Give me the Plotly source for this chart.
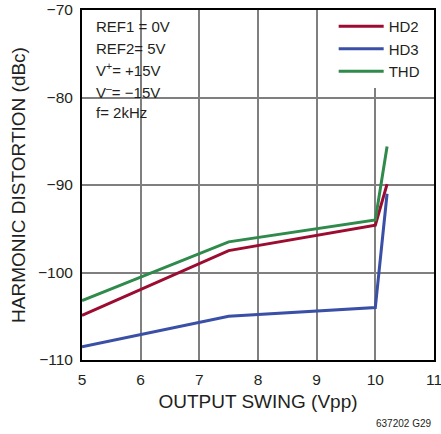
import plotly.graph_objects as go

# Data
hd2_x = [5, 7.5, 10, 10.2]
hd2_y = [-104.9, -97.5, -94.6, -89.9]
hd3_x = [5, 7.5, 10, 10.2]
hd3_y = [-108.5, -105.0, -104.0, -91.0]
thd_x = [5, 7.5, 10, 10.2]
thd_y = [-103.2, -96.5, -94.0, -85.6]

x_ticks = [5, 6, 7, 8, 9, 10, 11]
y_ticks = [-110, -100, -90, -80, -70]
y_labels = ["\u2212110", "\u2212100", "\u221290", "\u221280", "\u221270"]

cond_lines = ["REF1 = 0V", "REF2= 5V", "V<sup>+</sup>= +15V",
              "V<sup>\u2013</sup>= \u221215V", "f= 2kHz"]

FONT = "Liberation Sans, Arial, sans-serif"
TXT = "#231F20"

fig = go.Figure()
fig.add_trace(go.Scatter(x=hd2_x, y=hd2_y, mode="lines", name="HD2",
                         line=dict(color="#9C0B30", width=3)))
fig.add_trace(go.Scatter(x=hd3_x, y=hd3_y, mode="lines", name="HD3",
                         line=dict(color="#3A4FA6", width=3)))
fig.add_trace(go.Scatter(x=thd_x, y=thd_y, mode="lines", name="THD",
                         line=dict(color="#2F8A4B", width=3)))

fig.update_layout(
    width=441, height=434,
    margin=dict(l=82, r=7, t=10, b=74, autoexpand=False),
    paper_bgcolor="white", plot_bgcolor="white",
    font=dict(family=FONT, size=15.5, color=TXT),
    showlegend=True,
    legend=dict(x=0.715, y=1.0, xanchor="left", yanchor="top",
                bgcolor="white", font=dict(size=15, family=FONT),
                itemwidth=45, tracegroupgap=0),
)
fig.update_xaxes(range=[5, 11], tickvals=x_ticks, showgrid=True,
                 gridcolor="#7F7F7F", gridwidth=1.5, zeroline=False,
                 showline=True, linecolor="black", linewidth=2, mirror=True,
                 ticks="", ticklabelstandoff=4, automargin=False,
                 ticklabeloverflow="allow",
                 title=dict(text="OUTPUT SWING (Vpp)", standoff=8),
                 tickfont=dict(size=15.5))
fig.update_yaxes(range=[-110, -70], tickvals=y_ticks, ticktext=y_labels,
                 showgrid=True, gridcolor="#7F7F7F", gridwidth=1.5,
                 zeroline=False, showline=True, linecolor="black",
                 linewidth=2, mirror=True, ticks="", ticklabelstandoff=4,
                 automargin=False, ticklabeloverflow="allow",
                 title=dict(text="HARMONIC DISTORTION (dBc)", standoff=7),
                 tickfont=dict(size=15.5))

# white box behind the condition text (covers gridlines)
fig.add_shape(type="rect", xref="paper", yref="paper", layer="between",
              x0=0.031, x1=0.259, y0=0.67, y1=0.986,
              fillcolor="white", line=dict(width=0))
for i, t in enumerate(cond_lines):
    fig.add_annotation(
        xref="paper", yref="paper", x=0.033, y=0.952 - i * 0.0614,
        xanchor="left", yanchor="middle", align="left", showarrow=False,
        text=t, font=dict(size=15, family=FONT, color=TXT),
    )
fig.add_annotation(
    xref="paper", yref="paper", x=0.997, y=-0.18,
    xanchor="right", yanchor="middle", showarrow=False,
    text="637202 G29", font=dict(size=10, family=FONT, color=TXT),
)

fig.write_html("out.html", config={"displayModeBar": False},
               post_script="document.body.style.margin='0';")
